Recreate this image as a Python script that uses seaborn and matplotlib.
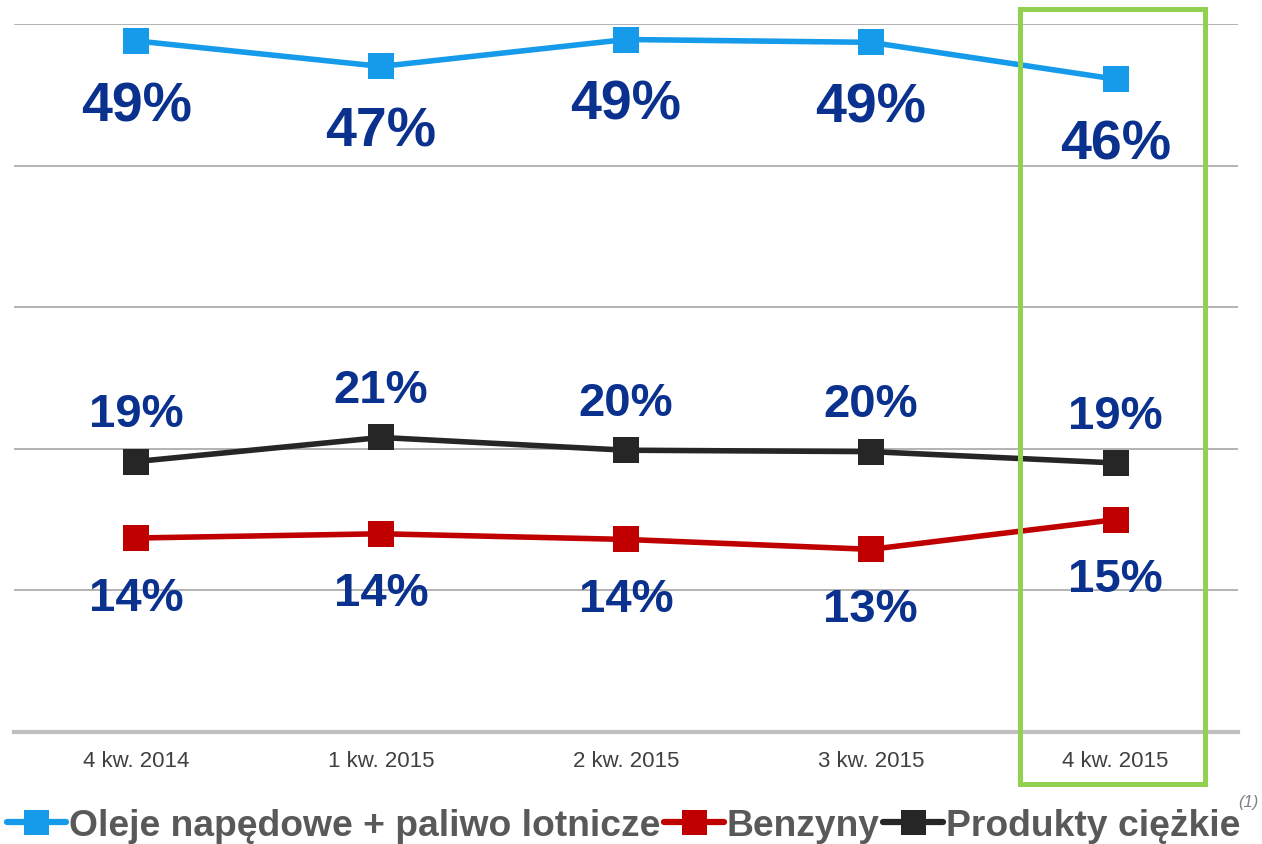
import pandas as pd
import seaborn as sns
import matplotlib.pyplot as plt
from matplotlib.lines import Line2D
from matplotlib.patches import Rectangle

# Dane
kwartaly = ['4 kw. 2014', '1 kw. 2015', '2 kw. 2015', '3 kw. 2015', '4 kw. 2015']
oleje = [48.8, 47.0, 48.9, 48.7, 46.1]
benzyny = [13.7, 14.0, 13.6, 12.9, 15.0]
ciezkie = [19.1, 20.8, 19.9, 19.8, 19.0]

etykiety_oleje = ['49%', '47%', '49%', '49%', '46%']
etykiety_benzyny = ['14%', '14%', '14%', '13%', '15%']
etykiety_ciezkie = ['19%', '21%', '20%', '20%', '19%']

serie = ['Oleje napędowe + paliwo lotnicze', 'Benzyny', 'Produkty ciężkie']
kolory = ['#169BEA', '#C00000', '#262626']

df = pd.concat([
    pd.DataFrame({'Kwartał': kwartaly, 'Udział': oleje, 'Seria': serie[0]}),
    pd.DataFrame({'Kwartał': kwartaly, 'Udział': benzyny, 'Seria': serie[1]}),
    pd.DataFrame({'Kwartał': kwartaly, 'Udział': ciezkie, 'Seria': serie[2]}),
])

sns.set_style('white')
FONT = ['Liberation Sans', 'DejaVu Sans']
plt.rcParams['font.family'] = FONT

fig = plt.figure(figsize=(12.62, 8.45), dpi=100)
ax = fig.add_axes([0.011, 0.1325, 0.97, 0.838])

sns.lineplot(data=df, x='Kwartał', y='Udział', hue='Seria', hue_order=serie,
             palette=kolory, style='Seria', markers=['s', 's', 's'], dashes=False,
             markersize=19, linewidth=4, markeredgewidth=0, sort=False,
             legend=False, ax=ax, zorder=3)

ax.set_xlim(-0.5, 4.5)
ax.set_ylim(0, 50)
ax.set_yticks([10, 20, 30, 40, 50])
ax.set_yticklabels([])
ax.yaxis.grid(True, color='#A6A6A6', linewidth=1.2)
ax.set_axisbelow(True)
for s in ['top', 'right', 'left']:
    ax.spines[s].set_visible(False)
ax.spines['bottom'].set_color('#BFBFBF')
ax.spines['bottom'].set_linewidth(3)
ax.tick_params(axis='x', length=0, pad=13, labelsize=16, labelcolor='#404040')
ax.tick_params(axis='y', length=0)
for t in ax.get_xticklabels():
    t.set_family(FONT)
ax.set_xlabel('')
ax.set_ylabel('')

# Etykiety danych
kolor_etykiet = '#0B318F'
for i in range(len(kwartaly)):
    ax.annotate(etykiety_oleje[i], (i, oleje[i]), xytext=(0, -47), textcoords='offset points',
                ha='center', va='center', fontsize=40, fontweight='bold', color=kolor_etykiet,
                family=FONT)
    ax.annotate(etykiety_ciezkie[i], (i, ciezkie[i]), xytext=(0, 34), textcoords='offset points',
                ha='center', va='center', fontsize=34, fontweight='bold', color=kolor_etykiet,
                family=FONT)
    ax.annotate(etykiety_benzyny[i], (i, benzyny[i]), xytext=(0, -43), textcoords='offset points',
                ha='center', va='center', fontsize=34, fontweight='bold', color=kolor_etykiet,
                family=FONT)

# Zielona ramka wokół ostatniego kwartału
ax.add_patch(Rectangle((3.61, -3.67), 0.755, 54.73, fill=False, edgecolor='#92D050',
                       linewidth=3.6, clip_on=False, zorder=5))

# Legenda
uchwyty = [Line2D([0], [0], color=k, lw=4.5, marker='s', markersize=18, markeredgewidth=0,
                  solid_capstyle='round') for k in kolory]
leg = fig.legend(uchwyty, serie, loc='center', bbox_to_anchor=(0.494, 0.022), ncol=3,
                 frameon=False, handlelength=1.6, handletextpad=0.08, columnspacing=0.1,
                 prop={'size': 26.8, 'weight': 'bold', 'family': FONT})
for t in leg.get_texts():
    t.set_color('#595959')

fig.text(0.989, 0.05, '(1)', fontsize=12, style='italic', color='#7F7F7F', ha='center',
         va='center', family=FONT)

fig.savefig('out.png', dpi=100)
